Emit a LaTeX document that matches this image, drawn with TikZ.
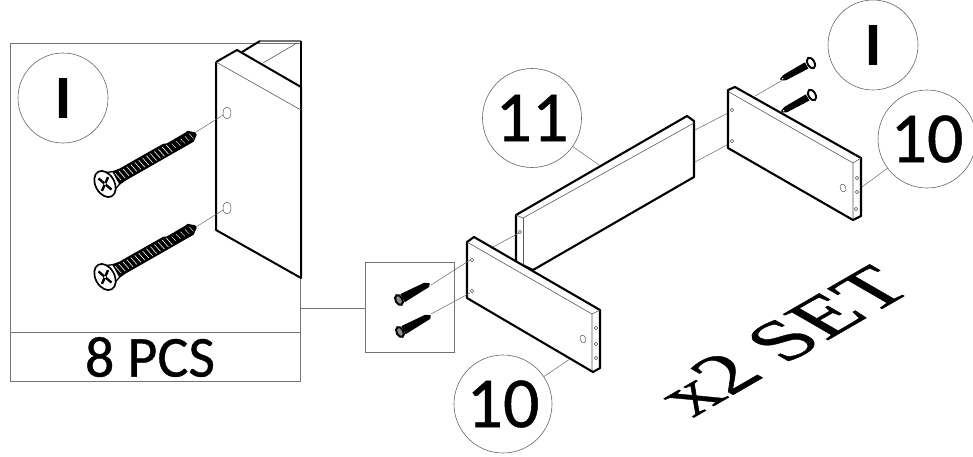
\documentclass[tikz,border=0pt]{standalone}
\usepackage{fontspec}
\setmainfont{Carlito}
\newfontfamily\heavy[FakeBold=0.6]{Carlito}
\newfontfamily\heavyI[FakeBold=1.2]{Carlito Bold}
\newfontfamily\serifx[FakeBold=0.6]{Liberation Serif}
\tikzset{
  x=1pt,y=-1pt,
  frameline/.style={draw=black!55,line width=0.7pt},
  thin leader/.style={draw=black!60,line width=0.5pt},
  wood/.style={draw=black,fill=white,line width=2.1pt,line join=round},
  woodlight/.style={draw=black!65,line width=0.6pt},
  hole/.style={draw=black!65,fill=white,line width=0.5pt},
  callout/.style={circle,draw=black!60,line width=0.6pt,fill=white,inner sep=0pt,minimum size=#1},
  numtxt/.style={font=\heavy\fontsize{72}{72}\selectfont},
  itxt/.style={font=\heavyI\fontsize{60}{60}\selectfont},
  bigscrew/.pic={
    \fill[black] (10,-8) -- (20,-6.5) -- (70,-7) -- (74,-5.5) -- (95,-6) -- (98,-6.5) -- (104,-1.5) -- (104,1.5) -- (98,6) -- (60,6.5) -- (20,7) -- (10,8) -- cycle;
    \foreach \t in {14,18.5,...,76}{
      \draw[white,line width=0.6pt] (\t,-4.5) -- (\t+2,4.5);
    }
    \foreach \t in {78,83,...,98}{
      \draw[white,line width=0.4pt] (\t,-3) -- (\t+1.5,3);
    }
    \draw[black,fill=white,line width=1.3pt] (0,-12) -- (13,-7) -- (13,7) -- (0,12) -- cycle;
    \draw[black,fill=white,line width=1.7pt] (0,0) ellipse (9.5 and 14);
    \draw[black,line width=2.4pt] (-3,-8) -- (3,8);
    \draw[black,line width=2.4pt] (-6,4.5) -- (6,-4.5);
    \fill[white] (0,0) circle (1.2);
  },
  smallscrew/.pic={
    \fill[black] (4,-4.6) -- (30,-3.4) -- (35,-.6) -- (33,2.6) -- (4,4.6) -- cycle;
    \draw[black,fill=black!45,line width=2pt] (0,0) ellipse (3.4 and 5.4);
  },
  washscrew/.pic={
    \fill[black] (5,-3.6) -- (30,-3) -- (34,-1.2) -- (35,1) -- (30,3) -- (5,3.6) -- cycle;
    \fill[white] (32.5,0) circle (.9);
    \draw[black,fill=white,line width=1.9pt] (0,0) ellipse (3.4 and 5.8);
  },
}
\begin{document}
\begin{tikzpicture}
\useasboundingbox (0,0) rectangle (973,456);

% ---------- left detail panel ----------
\coordinate (pTL) at (10,43);
\coordinate (pBR) at (300,381);
\coordinate (pDL) at (10,332);
\coordinate (pDR) at (300,332);
\coordinate (pLeader) at (300,308);
\draw[frameline] (pTL) rectangle (pBR);
\draw[frameline] (pDL) -- (pDR);
\node[inner sep=0pt,font=\heavy\fontsize{58}{58}\selectfont] (pcs) at (150,357) {8 PCS};
\node[callout=90pt,itxt] (iLeft) at (63,98) {I};

% back part in panel
\draw[black!55,line width=1.6pt] (260,41) -- (301,41);
\draw[black,line width=2pt,line join=round] (242,52) -- (260,41);
\draw[black,line width=2pt,line join=round] (301,41) -- (301,88);
\draw[woodlight] (263,63) -- (297,43);
\draw[black,line width=2pt,line join=round] (216,62) -- (237,50) -- (301,87);
\draw[black,line width=2pt,line join=round] (216,62) -- (216,230) -- (301,278) -- (301,87);
\draw[woodlight] (216,62) -- (301,110);
\draw[hole] (227,113) ellipse (4 and 6);
\draw[hole] (227,208) ellipse (4 and 6);
\coordinate (h1) at (223,115);
\coordinate (h2) at (223,210);
\coordinate (t1) at (196,132);
\coordinate (t2) at (196,227);
\draw[thin leader] (h1) -- (t1);
\draw[thin leader] (h2) -- (t2);
\pic[rotate=29] at (105,184) {bigscrew};
\pic[rotate=29] at (105,277) {bigscrew};

% ---------- small screw box ----------
\coordinate (bTL) at (365,262);
\coordinate (bBR) at (454,352);
\coordinate (bLeft) at (365,308);
\draw[frameline] (bTL) rectangle (bBR);
\draw[frameline] (pLeader) -- (bLeft);

% ---------- board 11 ----------
\draw[wood] (516,215) -- (687,116) -- (694,121) -- (694,177) -- (533,270) -- (516,262) -- cycle;
\draw[woodlight] (516,215) -- (523,218) -- (694,123);
\draw[woodlight] (523,218) -- (523,264);
\draw[hole] (520,232) circle (1.8);

% ---------- right thin lines to 11 ----------
\coordinate (r1a) at (695,130);
\coordinate (r1b) at (728,113);
\coordinate (r2a) at (695,162);
\coordinate (r2b) at (727,145);
\draw[thin leader] (r1a) -- (r1b);
\draw[thin leader] (r2a) -- (r2b);

% ---------- front board 10 ----------
\coordinate (la) at (493,247);
\coordinate (lb) at (519,233);
\draw[thin leader] (la) -- (lb);
\draw[wood] (467,242) -- (474,237) -- (600,310) -- (600,368) -- (593,372) -- (467,298) -- cycle;
\draw[woodlight] (467,242) -- (592,314) -- (592,370);
\draw[woodlight] (592,314) -- (600,310);
\foreach \p in {(472,260),(472,291),(596,328),(596,344),(596,358)}{
  \draw[hole] \p circle (1.8);
}
\draw[hole,rotate around={20:(583,339)}] (583,339) ellipse (2.8 and 4);
\coordinate (s1a) at (470,260);
\coordinate (s1b) at (431,285);
\coordinate (s2a) at (470,293);
\coordinate (s2b) at (431,314);
\draw[thin leader] (s1a) -- (s1b);
\draw[thin leader] (s2a) -- (s2b);
\pic[rotate=28] at (399,300) {smallscrew};
\pic[rotate=28] at (400,332) {smallscrew};

% ---------- right board 10 and its screws ----------
\coordinate (q1) at (755,96);
\coordinate (q2) at (781,81);
\draw[thin leader] (q1) -- (q2);
\pic[rotate=209] at (811,63) {washscrew};
\pic[rotate=209] at (812,95) {washscrew};
\draw[wood] (728,90) -- (735,87) -- (861,158) -- (861,216) -- (853,220) -- (728,148) -- cycle;
\draw[woodlight] (729,92) -- (853,163) -- (853,219);
\draw[woodlight] (853,163) -- (861,158);
\foreach \p in {(732,110),(732,141),(857,178),(857,192),(856,209)}{
  \draw[hole] \p circle (1.8);
}
\draw[hole,rotate around={20:(843,188)}] (843,188) ellipse (2.8 and 4);

% ---------- callouts ----------
\coordinate (a11) at (599,165);
\coordinate (a10) at (570,359);
\coordinate (a10r) at (862,187);
\node[callout=99pt,numtxt] (c11) at (532,118) {11};
\node[callout=98pt,numtxt] (c10) at (503,404) {10};
\node[callout=90pt,itxt] (iRight) at (873,45) {I};
\node[callout=98pt,numtxt] (c10r) at (927,139) {10};
\draw[thin leader] (c11) -- (a11);
\draw[thin leader] (c10) -- (a10);
\draw[thin leader] (c10r) -- (a10r);

% ---------- x2 SET ----------
\begin{scope}[cm={.93,.537,-.866,.5,(693,418)}]
\node[anchor=base west,inner sep=0pt,transform shape,font=\serifx\fontsize{79}{79}\selectfont] (xset) at (0,0) {x2 SET};
\end{scope}
\end{tikzpicture}
\end{document}
